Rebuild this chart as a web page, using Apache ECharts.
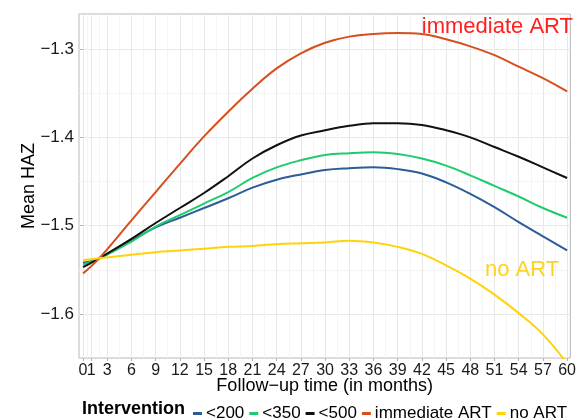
<!DOCTYPE html>
<html>
<head>
<meta charset="utf-8">
<script src="https://cdn.jsdelivr.net/npm/echarts@6/dist/echarts.min.js"></script>
<style>html,body{margin:0;padding:0;background:#fff}#c{width:579px;height:418px}</style>
</head>
<body>
<div id="c"></div>
<script>
const months = [0, 2, 6, 9, 12, 15, 18, 21, 24, 27, 30, 33, 36, 39, 42, 45, 48, 51, 54, 57, 60];
const lt200 = [-1.542, -1.537, -1.517, -1.502, -1.491, -1.480, -1.469, -1.457, -1.448, -1.442, -1.437, -1.435, -1.434, -1.436, -1.441, -1.451, -1.464, -1.479, -1.496, -1.512, -1.528];
const lt350 = [-1.544, -1.537, -1.518, -1.501, -1.488, -1.475, -1.462, -1.446, -1.434, -1.426, -1.420, -1.418, -1.417, -1.419, -1.424, -1.432, -1.443, -1.455, -1.467, -1.480, -1.491];
const lt500 = [-1.547, -1.537, -1.515, -1.497, -1.480, -1.463, -1.444, -1.424, -1.409, -1.398, -1.392, -1.387, -1.384, -1.384, -1.386, -1.392, -1.400, -1.411, -1.422, -1.434, -1.446];
const immediateART = [-1.554, -1.537, -1.494, -1.462, -1.430, -1.399, -1.371, -1.345, -1.322, -1.305, -1.293, -1.286, -1.283, -1.282, -1.283, -1.289, -1.297, -1.307, -1.320, -1.333, -1.348];
const noART = [-1.539, -1.537, -1.533, -1.530, -1.528, -1.526, -1.524, -1.523, -1.521, -1.520, -1.519, -1.517, -1.519, -1.524, -1.532, -1.545, -1.560, -1.578, -1.599, -1.623, -1.656];
const seriesNames = ['<200', '<350', '<500', 'immediate ART', 'no ART'];
const xTicks = [0, 1, 3, 6, 9, 12, 15, 18, 21, 24, 27, 30, 33, 36, 39, 42, 45, 48, 51, 54, 57, 60];
const yTicks = [-1.6, -1.5, -1.4, -1.3];
const yMinor = [-1.65, -1.55, -1.45, -1.35];

const xMinor = [];
for (let i = 0; i < xTicks.length - 1; i++) xMinor.push((xTicks[i] + xTicks[i + 1]) / 2);
// "1" label drawn on its own axis so it is not dropped for overlapping "0"
const xLabelsMain = xTicks.filter(t => t !== 1);
const xLabelsExtra = [1];

const colors = ['#2C5D98', '#1FCB6E', '#111111', '#D6501F', '#FFD30A'];
const values = [lt200, lt350, lt500, immediateART, noART];
const FONT = '"Liberation Sans", Arial, sans-serif';
const fmtY = v => v.toFixed(1).replace('-', '\u2212');

const XMIN = -0.5, XMAX = 60.4, YMIN = -1.6498, YMAX = -1.2604;
const xLabelStyle = {margin: 5, fontSize: 16, color: '#1a1a1a', fontFamily: FONT, showMinLabel: true, showMaxLabel: true, hideOverlap: false};

const chart = echarts.init(document.getElementById('c'), null, {renderer: 'canvas'});
chart.setOption({
  animation: false,
  backgroundColor: '#fff',
  textStyle: {fontFamily: FONT},
  grid: {left: 79, right: 3, top: 14, bottom: 60, show: true, borderColor: '#b8b8b8', borderWidth: 1, backgroundColor: 'transparent'},
  xAxis: [
    {
      type: 'value', min: XMIN, max: XMAX, gridIndex: 0,
      axisLine: {show: false},
      axisTick: {show: true, customValues: xTicks, length: 3, lineStyle: {color: '#b0b0b0'}},
      axisLabel: Object.assign({customValues: xLabelsMain}, xLabelStyle),
      splitLine: {show: true, lineStyle: {color: '#e8e8e8', width: 1}},
      name: 'Follow\u2212up time (in months)', nameLocation: 'middle', nameGap: 19, nameMoveOverlap: false,
      nameTextStyle: {fontSize: 18, color: '#000', fontFamily: FONT}
    },
    {
      type: 'value', min: XMIN, max: XMAX, gridIndex: 0, position: 'bottom',
      axisLine: {show: false},
      axisTick: {show: false, customValues: xMinor},
      axisLabel: {show: false, customValues: xMinor},
      splitLine: {show: true, lineStyle: {color: '#f4f4f4', width: 1}}
    },
    {
      type: 'value', min: XMIN, max: XMAX, gridIndex: 0, position: 'bottom',
      axisLine: {show: false},
      axisTick: {show: false, customValues: xLabelsExtra},
      axisLabel: Object.assign({customValues: xLabelsExtra}, xLabelStyle),
      splitLine: {show: false}
    }
  ],
  yAxis: [
    {
      type: 'value', min: YMIN, max: YMAX, gridIndex: 0,
      axisLine: {show: false},
      axisTick: {show: true, customValues: yTicks, length: 3, lineStyle: {color: '#b0b0b0'}},
      axisLabel: {customValues: yTicks, margin: 5, fontSize: 17, color: '#1a1a1a', fontFamily: FONT, formatter: fmtY},
      splitLine: {show: true, lineStyle: {color: '#e8e8e8', width: 1}},
      name: 'Mean HAZ', nameLocation: 'middle', nameGap: 41, nameRotate: 90, nameMoveOverlap: false,
      nameTextStyle: {fontSize: 18, color: '#000', fontFamily: FONT}
    },
    {
      type: 'value', min: YMIN, max: YMAX, gridIndex: 0, position: 'left',
      axisLine: {show: false},
      axisTick: {show: false, customValues: yMinor},
      axisLabel: {show: false, customValues: yMinor},
      splitLine: {show: true, lineStyle: {color: '#f4f4f4', width: 1}}
    }
  ],
  legend: {
    left: 188, top: 400, width: 400, itemGap: 5, itemWidth: 9, itemHeight: 3,
    icon: 'rect',
    data: seriesNames,
    textStyle: {fontSize: 17, color: '#000', fontFamily: FONT, padding: [0, 0, 0, -1]}
  },
  graphic: [
    {type: 'text', left: 82, top: 400, z: 100, style: {text: 'Intervention', font: 'bold 18px ' + FONT, fill: '#000'}},
    {type: 'text', right: 6, top: 16, z: 100, style: {text: 'immediate ART', font: '22px ' + FONT, fill: '#FF1F1F'}},
    {type: 'text', left: 485, top: 259, z: 100, style: {text: 'no ART', font: '22px ' + FONT, fill: '#FFD21F'}}
  ],
  series: seriesNames.map((n, i) => ({
    name: n, type: 'line', xAxisIndex: 0, yAxisIndex: 0,
    data: months.map((m, j) => [m, values[i][j]]),
    smooth: 0.4, showSymbol: false, clip: true,
    lineStyle: {color: colors[i], width: 2},
    itemStyle: {color: colors[i]}
  }))
});
</script>
</body>
</html>
